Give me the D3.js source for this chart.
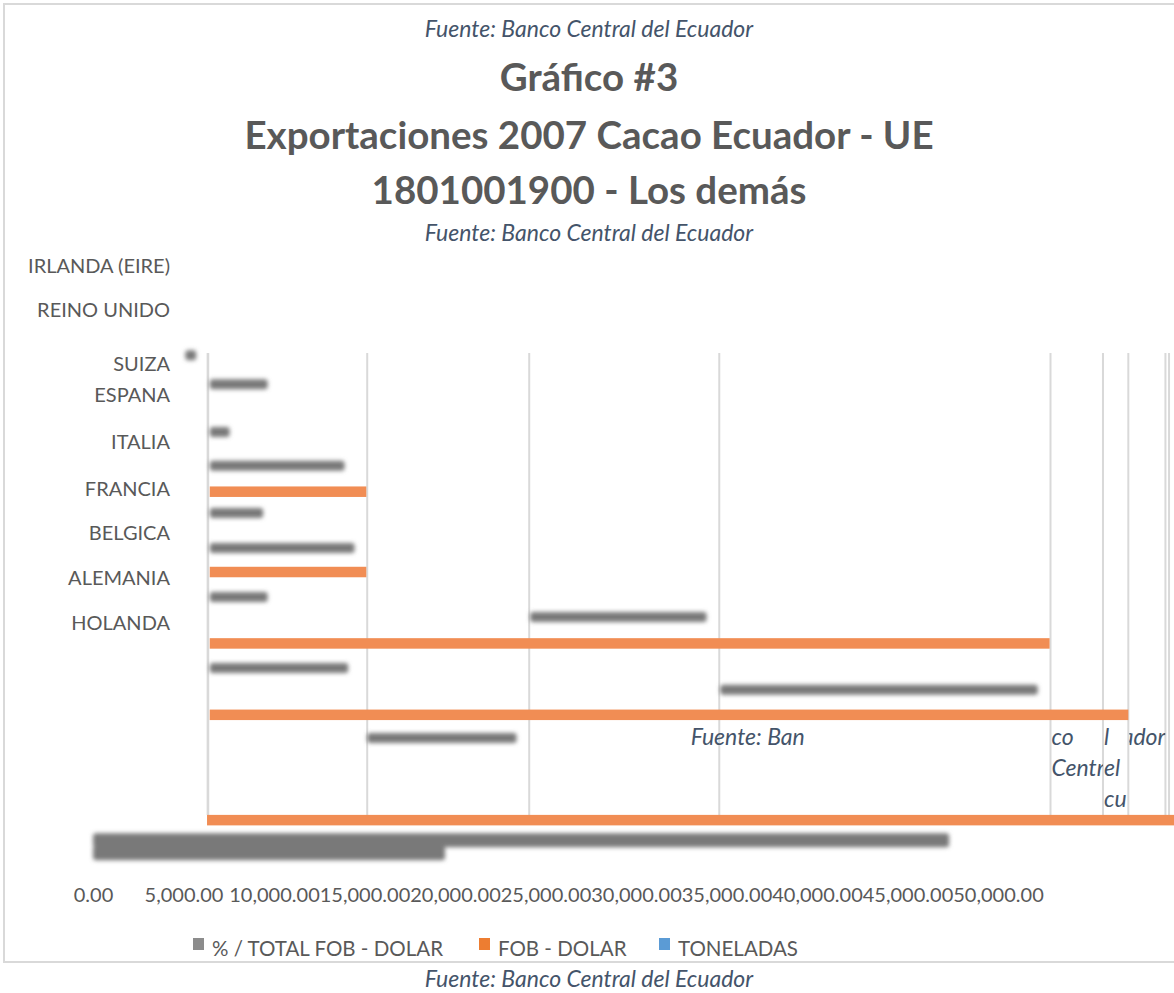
<!DOCTYPE html>
<html>
<head>
<meta charset="utf-8">
<script src="https://cdn.jsdelivr.net/npm/d3@7"></script>
<style>
  html, body { margin: 0; padding: 0; background: #fff; }
  svg { display: block; font-family: Lato, "Open Sans", sans-serif; }
</style>
</head>
<body>
<div id="chart"></div>
<script>
// ---------------- DATA ----------------
const source = "Fuente: Banco Central del Ecuador";
const titleLines = ["Gráfico #3", "Exportaciones 2007 Cacao Ecuador - UE", "1801001900 - Los demás"];
const categories = ["HOLANDA", "ALEMANIA", "BELGICA", "FRANCIA", "ITALIA", "ESPANA", "SUIZA", "REINO UNIDO", "IRLANDA (EIRE)"];
const seriesNames = ["% / TOTAL FOB - DOLAR", "FOB - DOLAR", "TONELADAS"];
const tickValues = [0, 5000, 10000, 15000, 20000, 25000, 30000, 35000, 40000, 45000, 50000];
const tickLabels = ["0.00", "5,000.00", "10,000.00", "15,000.00", "20,000.00", "25,000.00", "30,000.00", "35,000.00", "40,000.00", "45,000.00", "50,000.00"];
const gridValues = [6350, 15150, 24100, 34600, 52900, 55800, 57200, 59250, 59450];

// % / TOTAL FOB - DOLAR (grey) bars: row position (category units), start and end value
const pctRow  = [5.98, 5.33, 4.26, 3.50, 2.44, 1.66, 0.56, 0.11, -1.03, -1.52, -2.60, -4.89, -5.18];
const pctFrom = [5100, 6450, 6450, 6450, 6450, 6450, 6450, 24150, 6450, 34650, 15150, 0, 0];
const pctTo   = [5700, 9650, 7550, 13900, 9400, 14450, 9650, 33900, 14100, 52200, 23400, 47300, 19450];

// FOB - DOLAR (orange) bars
const fobRow  = [2.92, 1.12, -0.48, -2.08, -4.44];
const fobFrom = [6450, 6450, 6450, 6450, 6300];
const fobTo   = [15100, 15100, 52850, 57200, 62000];

// TONELADAS (blue): no visible bars
const tonRow = [], tonFrom = [], tonTo = [];

// ---------------- CHART ----------------
const W = 1174, H = 993;
const colors = { pct: "#797979", fob: "#f18d54", ton: "#5b9bd5", grid: "#d9d9d9", text: "#595959", src: "#44546a" };

const svg = d3.select("#chart").append("svg").attr("width", W).attr("height", H);

const defs = svg.append("defs");
const blur = defs.append("filter").attr("id", "soft")
  .attr("x", "-20%").attr("y", "-100%").attr("width", "140%").attr("height", "300%");
blur.append("feGaussianBlur").attr("stdDeviation", 2.1);

const x = d3.scaleLinear().domain([0, 50000]).range([93, 998]);
const y = d3.scaleLinear().domain([0, categories.length - 1]).range([622, 265]);

// chart border
svg.append("rect").attr("x", 4).attr("y", 4).attr("width", W + 10).attr("height", 958)
  .attr("fill", "none").attr("stroke", colors.grid).attr("stroke-width", 2);

// titles
const cx = 589;
const srcSize = 23;
svg.append("text").attr("x", cx).attr("y", 37).attr("text-anchor", "middle")
  .attr("font-style", "italic").attr("font-size", srcSize).attr("fill", colors.src).text(source);
const titleBase = [91, 149, 204];
titleLines.forEach((t, i) => {
  svg.append("text").attr("x", cx).attr("y", titleBase[i]).attr("text-anchor", "middle")
    .attr("font-weight", "bold").attr("font-size", 38.5).attr("fill", colors.text).text(t);
});
svg.append("text").attr("x", cx).attr("y", 241).attr("text-anchor", "middle")
  .attr("font-style", "italic").attr("font-size", srcSize).attr("fill", colors.src).text(source);

// gridlines
const gTop = 353, gBottom = 815;
svg.append("g").selectAll("line").data(gridValues).join("line")
  .attr("x1", d => x(d)).attr("x2", d => x(d))
  .attr("y1", gTop).attr("y2", gBottom)
  .attr("stroke", colors.grid).attr("stroke-width", (d, i) => i === 0 ? 2.6 : 2);

// broken source text inside plot
const srcG = svg.append("g").attr("font-style", "italic").attr("font-size", srcSize).attr("fill", colors.src);
const line1 = 745, lh = 31;
srcG.append("text").attr("x", x(33020)).attr("y", line1).text("Fuente: Ban");
const clip = (id, a, b) => {
  defs.append("clipPath").attr("id", id).append("rect")
    .attr("x", x(a) + 1).attr("y", 700).attr("width", x(b) - x(a) - 1).attr("height", 120);
  return "url(#" + id + ")";
};
const c1 = clip("c1", gridValues[4], gridValues[5]);
const c2 = clip("c2", gridValues[5], gridValues[6]);
const c3 = clip("c3", gridValues[6], gridValues[7]);
srcG.append("text").attr("clip-path", c1).attr("x", x(gridValues[4]) + 1).attr("y", line1).text("co");
srcG.append("text").attr("clip-path", c1).attr("x", x(gridValues[4]) + 1).attr("y", line1 + lh).text("Centr");
srcG.append("text").attr("clip-path", c2).attr("x", x(gridValues[5]) + 1).attr("y", line1).text("l");
srcG.append("text").attr("clip-path", c2).attr("x", x(gridValues[5]) + 1).attr("y", line1 + lh).text("el");
srcG.append("text").attr("clip-path", c2).attr("x", x(gridValues[5]) + 1).attr("y", line1 + 2 * lh).text("cu");
srcG.append("text").attr("clip-path", c3).attr("x", x(gridValues[7])).attr("y", line1).attr("text-anchor", "end").text("ador");

// grey bars (blurred)
const pctData = pctRow.map((r, i) => ({ r, a: pctFrom[i], b: pctTo[i] }));
svg.append("g").attr("filter", "url(#soft)").selectAll("rect").data(pctData).join("rect")
  .attr("x", d => x(d.a))
  .attr("width", d => x(d.b) - x(d.a))
  .attr("y", d => y(d.r) - (d.r < -4 ? 7 : 5))
  .attr("height", d => d.r < -4 ? 14 : 10)
  .attr("rx", 3)
  .attr("fill", colors.pct);

// orange bars
const fobData = fobRow.map((r, i) => ({ r, a: fobFrom[i], b: fobTo[i] }));
svg.append("g").selectAll("rect").data(fobData).join("rect")
  .attr("x", d => x(d.a))
  .attr("width", d => x(d.b) - x(d.a))
  .attr("y", d => y(d.r) - 5.25)
  .attr("height", 10.5)
  .attr("fill", colors.fob);

// blue bars (none visible)
const tonData = tonRow.map((r, i) => ({ r, a: tonFrom[i], b: tonTo[i] }));
svg.append("g").selectAll("rect").data(tonData).join("rect")
  .attr("x", d => x(d.a)).attr("width", d => x(d.b) - x(d.a))
  .attr("y", d => y(d.r) - 5).attr("height", 10).attr("fill", colors.ton);

// category labels
const nudge = { "SUIZA": 9, "ESPANA": -4, "ITALIA": -2 };
svg.append("g").selectAll("text").data(categories).join("text")
  .attr("x", 170).attr("y", (d, i) => y(i) + 7.5 + (nudge[d] || 0))
  .attr("text-anchor", "end").attr("font-size", 20).attr("fill", colors.text)
  .text(d => d);

// value axis
const axis = d3.axisBottom(x).tickValues(tickValues).tickFormat((d, i) => tickLabels[i]).tickSize(0);
const ax = svg.append("g").attr("transform", "translate(0,885)").call(axis);
ax.select(".domain").remove();
ax.selectAll("text").attr("font-family", "Lato, sans-serif").attr("font-size", 20).attr("fill", colors.text).attr("dy", "0.71em");

// legend
const legItems = [
  { name: seriesNames[0], color: "#8c8c8c", sx: 193 },
  { name: seriesNames[1], color: "#ed7d31", sx: 479 },
  { name: seriesNames[2], color: "#5b9bd5", sx: 659 }
];
const leg = svg.append("g");
legItems.forEach(it => {
  leg.append("rect").attr("x", it.sx).attr("y", 938).attr("width", 11).attr("height", 12).attr("fill", it.color);
  leg.append("text").attr("x", it.sx + 19).attr("y", 956).attr("font-size", 20.5).attr("fill", colors.text).text(it.name);
});

// bottom source
svg.append("text").attr("x", cx).attr("y", 987).attr("text-anchor", "middle")
  .attr("font-style", "italic").attr("font-size", srcSize).attr("fill", colors.src).text(source);
</script>
</body>
</html>
